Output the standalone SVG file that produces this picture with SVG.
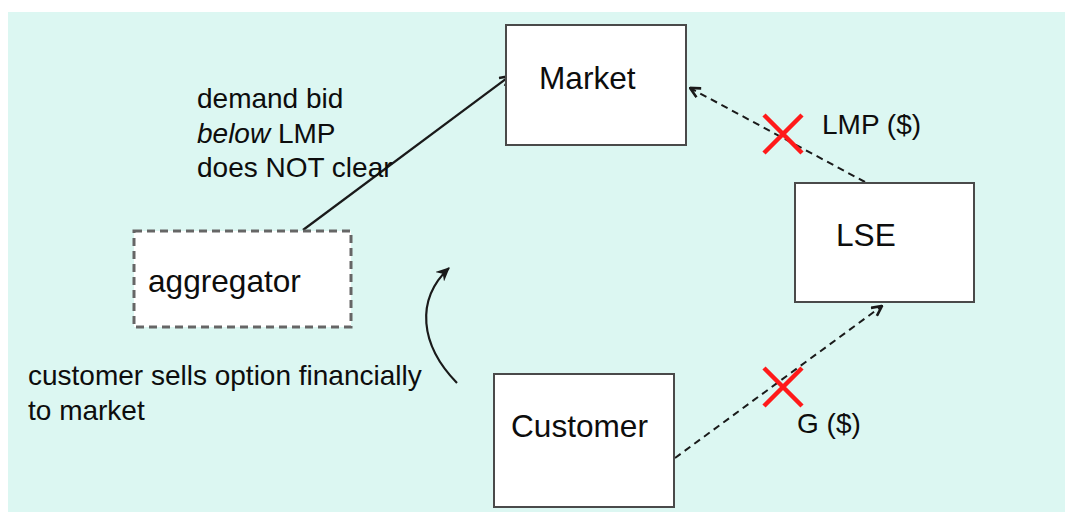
<svg xmlns="http://www.w3.org/2000/svg" width="1065" height="512" viewBox="0 0 1065 512">
  <defs>
    <style>
      .box { fill: #ffffff; stroke: #4a4a4a; stroke-width: 2; }
      .dashbox { fill: #ffffff; stroke: #666666; stroke-width: 3; stroke-dasharray: 8 5; }
      .big { font-family: "Liberation Sans", Arial, sans-serif; font-size: 31.6px; fill: #0d0d0d; }
      .txt { font-family: "Liberation Sans", Arial, sans-serif; font-size: 28px; fill: #0d0d0d; }
      .link { fill: none; stroke: #1a1a1a; stroke-width: 2.2; }
      .dash { stroke-width: 2; stroke-dasharray: 7 5; }
      .cross { stroke: #ff1a1a; stroke-width: 4.5; stroke-linecap: butt; }
    </style>
    <marker id="head" viewBox="0 0 12 12" refX="11" refY="6" markerWidth="12" markerHeight="12" markerUnits="userSpaceOnUse" orient="auto">
      <path d="M1,1 L11,6 L1,11" fill="none" stroke="#1a1a1a" stroke-width="2.6"/>
    </marker>
    <marker id="headFill" viewBox="0 0 14 12" refX="12" refY="6" markerWidth="15" markerHeight="13" markerUnits="userSpaceOnUse" orient="auto">
      <path d="M0,0 L13,6 L0,12 L4,6 Z" fill="#1a1a1a"/>
    </marker>
  </defs>

  <!-- background panel -->
  <rect x="8" y="12" width="1057" height="500" fill="#dcf7f2"/>

  <!-- connectors -->
  <g id="connectors">
    <path class="link" d="M303,230 L510,76" marker-end="url(#head)"/>
    <path class="link dash" d="M865,182 L690,88" marker-end="url(#head)"/>
    <path class="link dash" d="M675,458 L882,306" marker-end="url(#head)"/>
    <path class="link" d="M457,383 C420,345 415,300 449,268" marker-end="url(#headFill)"/>
  </g>

  <!-- blocked flows -->
  <g id="crosses">
    <path class="cross" d="M764,115 L802,153 M802,115 L764,153"/>
    <path class="cross" d="M764,368 L802,406 M802,368 L764,406"/>
  </g>

  <g id="market">
    <rect class="box" x="506" y="25" width="180" height="120"/>
    <text class="big" x="539" y="89">Market</text>
  </g>

  <g id="lse">
    <rect class="box" x="795" y="183" width="179" height="119"/>
    <text class="big" x="836" y="246">LSE</text>
  </g>

  <g id="customer">
    <rect class="box" x="494" y="374" width="180" height="133"/>
    <text class="big" x="511" y="437">Customer</text>
  </g>

  <g id="aggregator">
    <rect class="dashbox" x="134" y="231" width="217" height="96"/>
    <text class="big" x="148" y="292">aggregator</text>
  </g>

  <!-- annotations -->
  <g id="labels">
    <text class="txt" x="197" y="108">demand bid</text>
    <text class="txt" x="197" y="142.5"><tspan font-style="italic">below</tspan> LMP</text>
    <text class="txt" x="197" y="177">does NOT clear</text>
    <text class="txt" x="822" y="134">LMP ($)</text>
    <text class="txt" x="797" y="433">G ($)</text>
    <text class="txt" x="28" y="385">customer sells option financially</text>
    <text class="txt" x="28" y="420">to market</text>
  </g>
</svg>
